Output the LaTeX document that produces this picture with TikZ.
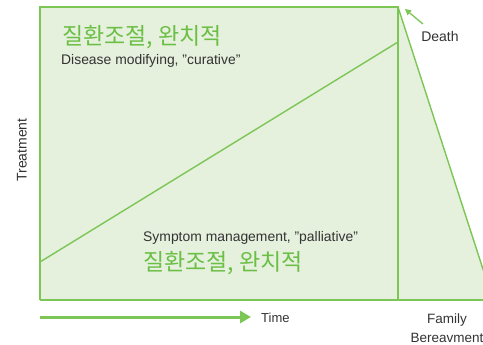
\documentclass[tikz,border=0pt]{standalone}
\usepackage{fontspec}
\setmainfont{Liberation Sans}
\newfontfamily\kofont{Noto Sans CJK KR}
\usetikzlibrary{arrows.meta}
\definecolor{leaf}{HTML}{7CC655}
\definecolor{leaftext}{HTML}{6BBF45}
\definecolor{pale}{HTML}{E5F0DD}
\definecolor{ink}{HTML}{333333}
\tikzset{
  frame/.style={draw=leaf, line width=1.4pt},
  area/.style={fill=pale},
  kolabel/.style={text=leaftext, font=\kofont\fontsize{23}{25}\selectfont, inner sep=0pt},
  enlabel/.style={text=ink, font=\fontsize{13.9}{15}\selectfont, inner sep=0pt},
  axlabel/.style={text=ink, font=\fontsize{14}{16}\selectfont, inner sep=0pt},
}
\begin{document}
\begin{tikzpicture}[x=1pt, y=-1pt]
\useasboundingbox (0,0) rectangle (483,345);
% shaded regions
\fill[area] (40,7) rectangle (398,300);
\fill[area] (398,7) -- (493,300) -- (398,300) -- cycle;
% outline of the treatment phase and the bereavement wedge
\coordinate (apex) at (398,7);
\draw[frame] (40,300) -- (40,7) -- (apex) -- (398,300);
\draw[frame] (apex) -- (493,300);
\draw[frame] (40,300) -- (493,300);
% split between curative and palliative care
\draw[frame] (40,262) -- (398,42);
% labels inside
\node[kolabel, anchor=west] (ko1) at (62,37) {질환조절, 완치적};
\node[enlabel, anchor=west] (cur) at (61,61) {Disease modifying, "curative"};
\node[enlabel, anchor=west] (pal) at (143,238) {Symptom management, "palliative"};
\node[kolabel, anchor=west] (ko2) at (143,263) {질환조절, 완치적};
% axes
\node[axlabel, rotate=90] (treat) at (22,150) {Treatment};
\coordinate (t0) at (40,317);
\coordinate (t1) at (251,317);
\draw[leaf, line width=3pt, -{Triangle[length=11pt,width=12pt]}] (t0) -- (t1);
\node[axlabel, anchor=west, font=\fontsize{13}{15}\selectfont] (time) at (261,318) {Time};
% death marker
\node[axlabel] (death) at (440,36) {Death};
\coordinate (dtip) at (405,9);
\draw[leaf, line width=1.3pt, -{Triangle[length=6pt,width=6pt]}] (423,24) -- (dtip);
% family bereavement
\node[axlabel, align=center, font=\fontsize{13.5}{19}\selectfont] (fam) at (447,328) {Family\\Bereavment};
\end{tikzpicture}
\end{document}
